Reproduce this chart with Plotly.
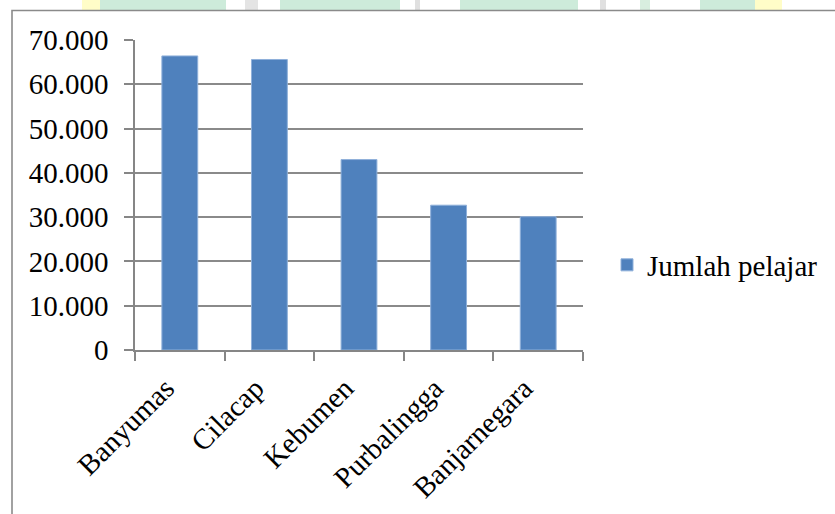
import plotly.graph_objects as go

categories = ["Banyumas", "Cilacap", "Kebumen", "Purbalingga", "Banjarnegara"]
jumlah_pelajar = [66400, 65600, 43000, 32700, 30100]
series_name = "Jumlah pelajar"
y_tick_vals = [0, 10000, 20000, 30000, 40000, 50000, 60000, 70000]

W, H = 835, 514
L, R, T, B = 135, 583, 40, 350  # plot area in pixels
FONT = "Liberation Serif, Times New Roman, serif"


def px(x):
    return (x - L) / (R - L)


def py(y):
    return (B - y) / (B - T)


fig = go.Figure()
fig.add_trace(go.Bar(
    x=categories,
    y=jumlah_pelajar,
    name=series_name,
    marker=dict(color="#4F81BD", line=dict(color="#8FB0DA", width=1)),
    showlegend=True,
))

shapes = []
# faint watermark strip at the top
wm = [
    (82, 100, "#FFFDC8"),
    (100, 226, "#CDEBDA"),
    (245, 258, "#E4E4E4"),
    (280, 400, "#CDEBDA"),
    (415, 420, "#E0E0E0"),
    (460, 578, "#CDEBDA"),
    (600, 606, "#E0E0E0"),
    (640, 650, "#D8EEDF"),
    (700, 755, "#CDEBDA"),
    (755, 782, "#FFFDC8"),
]
for x0, x1, c in wm:
    shapes.append(dict(type="rect", xref="paper", yref="paper",
                       x0=px(x0), x1=px(x1), y0=py(10), y1=py(-2),
                       line=dict(width=0), fillcolor=c, layer="below"))
# outer chart frame
shapes.append(dict(type="rect", xref="paper", yref="paper",
                   x0=px(12), x1=px(900), y0=py(600), y1=py(10.5),
                   line=dict(color="#8A8A8A", width=1.6), fillcolor="rgba(0,0,0,0)",
                   layer="below"))

fig.update_layout(
    width=W, height=H,
    margin=dict(l=L, r=W - R, t=T, b=H - B, pad=0),
    paper_bgcolor="white",
    plot_bgcolor="white",
    separators=",.",
    bargap=0.6,
    font=dict(family=FONT, size=29, color="black"),
    shapes=shapes,
    legend=dict(
        x=px(607), y=py(265), xanchor="left", yanchor="middle",
        font=dict(size=29, family=FONT),
        bgcolor="rgba(0,0,0,0)", borderwidth=0,
    ),
    xaxis=dict(
        type="category",
        tickangle=-45,
        tickson="boundaries",
        ticks="outside", ticklen=9, tickwidth=1.5, tickcolor="#868686",
        showline=True, linecolor="#868686", linewidth=1.5,
        showgrid=False,
        tickfont=dict(size=29),
        ticklabelshift=-14,
        ticklabelstandoff=8,
        automargin=False,
    ),
    yaxis=dict(
        range=[0, 70000],
        tickvals=y_tick_vals,
        tickformat=",d",
        ticks="outside", ticklen=9, tickwidth=1.5, tickcolor="#868686",
        showline=True, linecolor="#868686", linewidth=1.5,
        showgrid=True, gridcolor="#8A8A8A", gridwidth=1.5,
        zeroline=False,
        tickfont=dict(size=29),
        ticklabelstandoff=10,
        automargin=False,
    ),
)

fig.write_html("out.html")
